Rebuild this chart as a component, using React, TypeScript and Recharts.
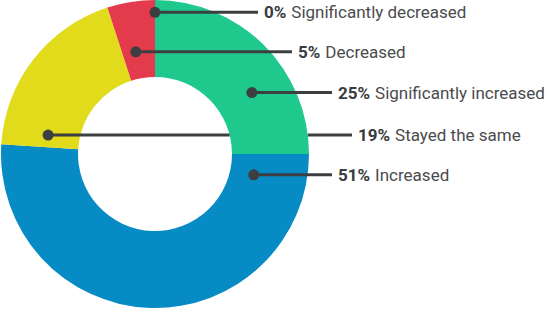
import React from 'react';
import { PieChart, Pie, Cell } from 'recharts';

// survey answers, drawn clockwise from 12 o'clock
const categories = [
  'Significantly increased',
  'Increased',
  'Stayed the same',
  'Decreased',
  'Significantly decreased',
];
const shares = [25, 51, 19, 5, 0];
const sliceColors = ['#1fc98e', '#078bc5', '#e1db1b', '#e43b4c', '#e43b4c'];

const chartData = categories.map((name, i) => ({ name, value: shares[i] }));

// where each leader dot sits inside its slice (t: along the arc, f: across the ring)
// and where its line stops on the right
const leaders = [
  { t: 0.64, f: 0.49, endX: 332, cutByRing: false },
  { t: 0.065, f: 0.31, endX: 332, cutByRing: false },
  { t: 0.094, f: 0.41, endX: 352, cutByRing: true },
  { t: 0.41, f: 0.35, endX: 292, cutByRing: false },
  { t: 0, f: 0.84, endX: 258, cutByRing: false },
];

const RAD = Math.PI / 180;
const INK = '#3c3f42';

const renderLeader = (props: any) => {
  const { cx, cy, innerRadius, outerRadius, startAngle, endAngle, index, value, name } = props;
  const l = leaders[index];
  const ang = startAngle + l.t * (endAngle - startAngle);
  const r = innerRadius + l.f * (outerRadius - innerRadius);
  const x = cx + r * Math.cos(ang * RAD);
  const y = cy - r * Math.sin(ang * RAD);
  const dy = y - cy;

  // the "stayed the same" line runs through the hole and hides behind the right side of the ring
  const segments: [number, number][] = l.cutByRing
    ? [
        [x, cx + Math.sqrt(innerRadius * innerRadius - dy * dy)],
        [cx + Math.sqrt(outerRadius * outerRadius - dy * dy), l.endX],
      ]
    : [[x, l.endX]];

  return (
    <g key={`leader-${index}`}>
      {segments.map(([a, b], i) => (
        <line key={i} x1={a} y1={y} x2={b} y2={y} stroke={INK} strokeWidth={3} />
      ))}
      <circle cx={x} cy={y} r={5.5} fill={INK} />
      <text
        x={l.endX + 6}
        y={y}
        dominantBaseline="central"
        fontFamily="Roboto, sans-serif"
        fontSize={17}
        fill="#4a4b4d"
      >
        <tspan fontWeight={700} fill="#3a3b3d">{`${value}%`}</tspan>
        <tspan dx={5}>{name}</tspan>
      </text>
    </g>
  );
};

const App: React.FC = () => {
  return (
    <div style={{ position: 'absolute', left: 0, top: 0 }}>
      <PieChart width={550} height={310} margin={{ top: 0, right: 0, bottom: 0, left: 0 }}>
        <Pie
          data={chartData}
          dataKey="value"
          nameKey="name"
          cx={155}
          cy={154}
          innerRadius={77}
          outerRadius={154}
          startAngle={90}
          endAngle={-270}
          stroke="none"
          label={renderLeader}
          labelLine={false}
          isAnimationActive={false}
        >
          {chartData.map((d, i) => (
            <Cell key={d.name} fill={sliceColors[i]} />
          ))}
        </Pie>
      </PieChart>
    </div>
  );
};

export default App;
